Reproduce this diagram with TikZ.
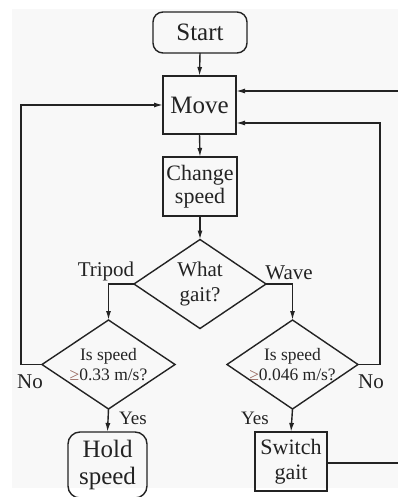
\documentclass[tikz,border=0pt]{standalone}
\usepackage{fontspec}
\setmainfont{Liberation Serif}
\usetikzlibrary{arrows.meta}
\definecolor{ink}{RGB}{35,35,35}
\definecolor{bgpaper}{RGB}{248,248,248}
\definecolor{geqc}{RGB}{150,100,90}
\newcommand\myfs[2]{\fontsize{#1}{#2}\selectfont}
\begin{document}
\begin{tikzpicture}[x=1pt,y=-1pt,
  every node/.style={text=ink, inner sep=0pt, outer sep=0pt},
  line/.style={draw=ink, line width=1.4pt},
  arr/.style={line, -{Latex[length=9pt,width=5pt]}},
  box/.style={line, rectangle, align=center},
  term/.style={box, rounded corners=10pt},
  dia/.style={rectangle, align=center},
  lbl/.style={anchor=base}]
  \useasboundingbox (0,0) rectangle (398,497);
  \fill[bgpaper] (12,9) rectangle (398,488);

  % process nodes
  \node[term, minimum width=94pt, minimum height=41pt, font=\myfs{25}{28}] (start) at (200,32.5) {Start};
  \node[box, minimum width=73pt, minimum height=58pt, font=\myfs{25}{28}] (move) at (199.5,105) {Move};
  \node[box, minimum width=74pt, minimum height=59pt, font=\myfs{22}{23.5}] (change) at (200,186.5) {Change\\speed};
  \node[dia, minimum width=132pt, minimum height=89pt, font=\myfs{21}{25}] (gait) at (200,284) {What\\gait?};
  \node[dia, minimum width=133pt, minimum height=89pt, font=\myfs{17.5}{20.5}] (left) at (108.5,364.5) {Is speed\\{\color{geqc}≥}0.33 m/s?};
  \node[dia, minimum width=131pt, minimum height=89pt, font=\myfs{17.5}{19.5}] (right) at (292.5,364.5) {Is speed\\{\color{geqc}≥}0.046 m/s?};
  \node[term, rounded corners=12pt, minimum width=79pt, minimum height=66pt, font=\myfs{25}{27}] (hold) at (107.5,465) {Hold\\speed};
  \node[box, minimum width=72pt, minimum height=59pt, font=\myfs{22}{25}] (switch) at (291,461.5) {Switch\\gait};

  % diamond outlines
  \foreach \d in {gait,left,right}
    \draw[line, line join=miter] (\d.north) -- (\d.east) -- (\d.south) -- (\d.west) -- cycle;

  % free ends (connector continues beyond the picture)
  \coordinate (inTop) at (398,91);
  \coordinate (outSwitch) at (398,463);

  % connectors
  \draw[arr] (start.south) -- (move.north);
  \draw[arr] (move.south) -- (change.north);
  \draw[arr] (change.south) -- (gait.north);
  \draw[arr] (gait.west) -| (left.north);
  \draw[arr] (gait.east) -| (right.north);
  \draw[arr] (left.south) -- (hold.north);
  \draw[arr] (right.south) -- (switch.north);
  \draw[arr] (left.west) -- ++(-21,0) |- (move.west);
  \draw[arr] (right.east) -- ++(22,0) |- ([yshift=-18pt]move.east);
  \draw[arr] (inTop) -- ([yshift=14pt]move.east);
  \draw[line] (switch.east |- outSwitch) -- (outSwitch);

  % labels
  \node[lbl, font=\myfs{21}{25}] (tTripod) at (106,276) {Tripod};
  \node[lbl, font=\myfs{21}{25}] (tWave) at (289,279) {Wave};
  \node[lbl, font=\myfs{21}{25}] (tNoL) at (30,388) {No};
  \node[lbl, font=\myfs{21}{25}] (tNoR) at (371,388) {No};
  \node[lbl, font=\myfs{19}{22}] (tYesL) at (133,424) {Yes};
  \node[lbl, font=\myfs{19}{22}] (tYesR) at (255,424) {Yes};
\end{tikzpicture}
\end{document}
